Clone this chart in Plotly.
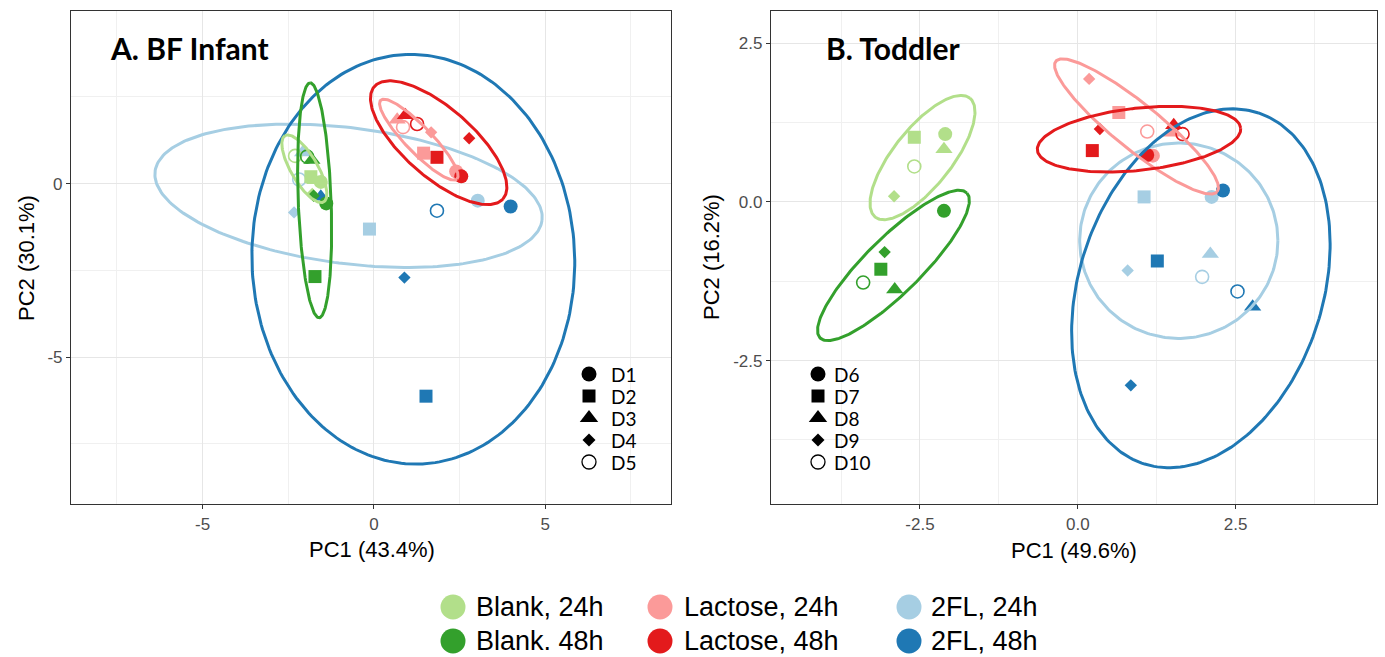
import numpy as np
import plotly.graph_objects as go

W, H = 1385, 657

# ---------------- data ----------------
groups = ["2FL, 24h", "2FL, 48h", "Blank, 24h", "Blank. 48h", "Lactose, 24h", "Lactose, 48h"]
group_colors = ["#A6CEE3", "#1F78B4", "#B2DF8A", "#33A02C", "#FB9A99", "#E31A1C"]
legend_order = ["Blank, 24h", "Blank. 48h", "Lactose, 24h", "Lactose, 48h", "2FL, 24h", "2FL, 48h"]

donors_a = ["D1", "D2", "D3", "D4", "D5"]
donors_b = ["D6", "D7", "D8", "D9", "D10"]

# Panel A (BF Infant): PC1 / PC2 per group, donors D1..D5
a_2fl24_pc1 = [3.03, -0.13, -2.08, -2.33, -2.18]
a_2fl24_pc2 = [-0.49, -1.31, 0.90, -0.83, 0.12]
a_2fl48_pc1 = [3.99, 1.52, -1.55, 0.89, 1.84]
a_2fl48_pc2 = [-0.66, -6.13, -0.38, -2.71, -0.78]
a_blank24_pc1 = [-1.55, -1.84, -1.72, -1.80, -2.30]
a_blank24_pc2 = [0.05, 0.20, 0.10, -0.30, 0.80]
a_blank48_pc1 = [-1.39, -1.72, -1.81, -1.76, -1.95]
a_blank48_pc2 = [-0.57, -2.68, 0.68, -0.35, 0.78]
a_lac24_pc1 = [2.40, 1.45, 0.68, 1.67, 0.85]
a_lac24_pc2 = [0.35, 0.88, 1.84, 1.48, 1.63]
a_lac48_pc1 = [2.55, 1.84, 0.92, 2.78, 1.26]
a_lac48_pc2 = [0.21, 0.76, 1.97, 1.31, 1.72]

# Panel B (Toddler): PC1 / PC2 per group, donors D6..D10
b_2fl24_pc1 = [2.12, 1.05, 2.10, 0.79, 1.97]
b_2fl24_pc2 = [0.08, 0.08, -0.82, -1.08, -1.18]
b_2fl48_pc1 = [2.30, 1.26, 2.77, 0.84, 2.53]
b_2fl48_pc2 = [0.18, -0.93, -1.65, -2.89, -1.41]
b_blank24_pc1 = [-2.10, -2.59, -2.12, -2.91, -2.59]
b_blank24_pc2 = [1.07, 1.02, 0.83, 0.09, 0.56]
b_blank48_pc1 = [-2.12, -3.12, -2.90, -3.06, -3.40]
b_blank48_pc2 = [-0.14, -1.06, -1.38, -0.79, -1.27]
b_lac24_pc1 = [1.19, 0.65, 1.48, 0.18, 1.10]
b_lac24_pc2 = [0.73, 1.41, 1.09, 1.94, 1.11]
b_lac48_pc1 = [1.10, 0.23, 1.52, 0.35, 1.66]
b_lac48_pc2 = [0.74, 0.81, 1.21, 1.15, 1.07]

# Ellipses (center x, center y, semi-axis a, semi-axis b, angle deg), in group order
a_ell_cx = [-0.74, 1.15, -2.03, -1.73, 1.31, 1.89]
a_ell_cy = [-0.35, -2.18, 0.43, -0.48, 1.27, 1.18]
a_ell_a = [5.69, 5.91, 1.11, 3.39, 1.59, 2.48]
a_ell_b = [1.96, 4.71, 0.39, 0.48, 0.38, 1.00]
a_ell_ang = [-7.1, 92.0, 120.6, 92.2, -45.6, -40.7]

b_ell_cx = [1.60, 1.95, -2.46, -2.92, 0.93, 0.97]
b_ell_cy = [-0.61, -1.36, 0.70, -1.00, 1.19, 0.99]
b_ell_a = [1.57, 2.91, 1.20, 1.63, 1.64, 1.62]
b_ell_b = [1.54, 1.93, 0.46, 0.44, 0.36, 0.49]
b_ell_ang = [0.0, 71.7, 51.3, 44.5, -38.8, 6.2]

# axis ticks
a_xticks = [-5, 0, 5]
a_xlabels = ["-5", "0", "5"]
a_yticks = [-5, 0]
a_ylabels = ["-5", "0"]
b_xticks = [-2.5, 0, 2.5]
b_xlabels = ["-2.5", "0.0", "2.5"]
b_yticks = [-2.5, 0, 2.5]
b_ylabels = ["-2.5", "0.0", "2.5"]

# ---------------- styles ----------------
symbols = ["circle", "square", "triangle-up", "diamond", "circle-open"]
sizes = [14, 13, 15, 9.5, 13]
linew = [0, 0, 0, 0, 1.6]

panel_a = {
    "2FL, 24h": (a_2fl24_pc1, a_2fl24_pc2), "2FL, 48h": (a_2fl48_pc1, a_2fl48_pc2),
    "Blank, 24h": (a_blank24_pc1, a_blank24_pc2), "Blank. 48h": (a_blank48_pc1, a_blank48_pc2),
    "Lactose, 24h": (a_lac24_pc1, a_lac24_pc2), "Lactose, 48h": (a_lac48_pc1, a_lac48_pc2),
}
panel_b = {
    "2FL, 24h": (b_2fl24_pc1, b_2fl24_pc2), "2FL, 48h": (b_2fl48_pc1, b_2fl48_pc2),
    "Blank, 24h": (b_blank24_pc1, b_blank24_pc2), "Blank. 48h": (b_blank48_pc1, b_blank48_pc2),
    "Lactose, 24h": (b_lac24_pc1, b_lac24_pc2), "Lactose, 48h": (b_lac48_pc1, b_lac48_pc2),
}
cmap = dict(zip(groups, group_colors))


def ellipse(cx, cy, a, b, ang):
    t = np.linspace(0, 2 * np.pi, 240)
    th = np.deg2rad(ang)
    x = cx + a * np.cos(t) * np.cos(th) - b * np.sin(t) * np.sin(th)
    y = cy + a * np.cos(t) * np.sin(th) + b * np.sin(t) * np.cos(th)
    return x, y


fig = go.Figure()

for data, donors, xa, ya in [(panel_a, donors_a, "x", "y"), (panel_b, donors_b, "x2", "y2")]:
    for g in groups:
        px, py = data[g]
        fig.add_trace(go.Scatter(
            x=px, y=py, mode="markers", xaxis=xa, yaxis=ya, showlegend=False,
            text=donors, name=g, cliponaxis=True,
            marker=dict(symbol=symbols, size=sizes, color=cmap[g], opacity=1,
                        line=dict(width=linew, color=cmap[g])),
        ))

for (cxs, cys, aa, bb, angs), xa, ya in [
    ((a_ell_cx, a_ell_cy, a_ell_a, a_ell_b, a_ell_ang), "x", "y"),
    ((b_ell_cx, b_ell_cy, b_ell_a, b_ell_b, b_ell_ang), "x2", "y2"),
]:
    for i, g in enumerate(groups):
        ex, ey = ellipse(cxs[i], cys[i], aa[i], bb[i], angs[i])
        fig.add_trace(go.Scatter(x=ex, y=ey, mode="lines", xaxis=xa, yaxis=ya,
                                 showlegend=False, hoverinfo="skip",
                                 line=dict(color=cmap[g], width=3)))

# -------- overlay (pixel space) for keys --------
key_y = [374, 396, 418, 440, 462]
for mx, donors in [(589, donors_a), (818, donors_b)]:
    fig.add_trace(go.Scatter(
        x=[mx] * 5, y=key_y, mode="markers", xaxis="x3", yaxis="y3", showlegend=False,
        marker=dict(symbol=symbols, size=[15, 13, 16, 10, 14], color="#000000", opacity=1,
                    line=dict(width=[0, 0, 0, 0, 1.3], color="#000000")),
        hoverinfo="skip"))

leg_cx = [453, 453, 660, 660, 909, 909]
leg_cy = [607, 641, 607, 641, 607, 641]
leg_tx = [475, 475, 683, 683, 930, 930]
fig.add_trace(go.Scatter(
    x=leg_cx, y=leg_cy, mode="markers", xaxis="x3", yaxis="y3", showlegend=False,
    marker=dict(size=25, color=[cmap[g] for g in legend_order], opacity=1), hoverinfo="skip"))

ann = []


def px2paper(x, y):
    return x / W, 1 - y / H


for g, tx, ty in zip(legend_order, leg_tx, leg_cy):
    x, y = px2paper(tx, ty)
    ann.append(dict(x=x, y=y, xref="paper", yref="paper", text=g, showarrow=False,
                    xanchor="left", yanchor="middle", borderpad=0,
                    font=dict(family="Liberation Sans, Arial", size=27, color="black")))

for tx, donors in [(610, donors_a), (833, donors_b)]:
    for d, ty in zip(donors, key_y):
        x, y = px2paper(tx, ty)
        ann.append(dict(x=x, y=y, xref="paper", yref="paper", text=d, showarrow=False,
                        xanchor="left", yanchor="middle", borderpad=0,
                        font=dict(family="Lato", size=19, color="black")))

for txt, cx, cy in [("<b>A. BF Infant</b>", 189, 48), ("<b>B. Toddler</b>", 893, 48)]:
    x, y = px2paper(cx, cy)
    ann.append(dict(x=x, y=y, xref="paper", yref="paper", text=txt, showarrow=False,
                    xanchor="center", yanchor="middle",
                    font=dict(family="Lato", size=30, color="black")))

for txt, cx, cy, rot in [("PC1 (43.4%)", 372, 549, 0), ("PC2 (30.1%)", 26, 258, -90),
                         ("PC1 (49.6%)", 1074, 550, 0), ("PC2 (16.2%)", 711, 257, -90)]:
    x, y = px2paper(cx, cy)
    ann.append(dict(x=x, y=y, xref="paper", yref="paper", text=txt, showarrow=False,
                    xanchor="center", yanchor="middle", textangle=rot,
                    font=dict(family="Liberation Sans, Arial", size=22, color="black")))

tickfont = dict(family="Liberation Sans, Arial", size=17, color="#4d4d4d")
grid_major = "#e6e6e6"
grid_minor = "#f0f0f0"


def axis(domain, rng, tickvals, ticktext, minor_dtick, minor_tick0, anchor):
    return dict(domain=domain, range=rng, tickmode="array", tickvals=tickvals, ticktext=ticktext,
                showgrid=True, gridcolor=grid_major, gridwidth=1.2, zeroline=False,
                showline=True, mirror=True, linecolor="#333333", linewidth=1.2,
                ticks="outside", ticklen=4, tickcolor="#333333", tickwidth=1,
                tickfont=tickfont, anchor=anchor, fixedrange=True,
                minor=dict(tickmode="linear", dtick=minor_dtick, tick0=minor_tick0,
                           showgrid=True, gridcolor=grid_minor, gridwidth=0.8, ticks=""))


top_px, bot_px = 11, 504
ydom = [1 - bot_px / H, 1 - top_px / H]

fig.update_layout(
    width=W, height=H, margin=dict(l=0, r=0, t=0, b=0),
    paper_bgcolor="white", plot_bgcolor="rgba(0,0,0,0)", showlegend=False,
    xaxis=axis([71 / W, 671 / W], [-8.84, 8.67], a_xticks, a_xlabels, 2.5, 0, "y"),
    yaxis=axis(ydom, [-9.24, 4.98], a_yticks, a_ylabels, 2.5, 0, "x"),
    xaxis2=axis([771 / W, 1377 / W], [-4.86, 4.74], b_xticks, b_xlabels, 1.25, 0, "y2"),
    yaxis2=axis(ydom, [-4.76, 3.01], b_yticks, b_ylabels, 1.25, 0, "x2"),
    xaxis3=dict(domain=[0, 1], range=[0, W], visible=False, anchor="y3", fixedrange=True,
                showgrid=False, zeroline=False),
    yaxis3=dict(domain=[0, 1], range=[H, 0], visible=False, anchor="x3", fixedrange=True,
                showgrid=False, zeroline=False),
    annotations=ann,
)

fig.write_html("out.html")
